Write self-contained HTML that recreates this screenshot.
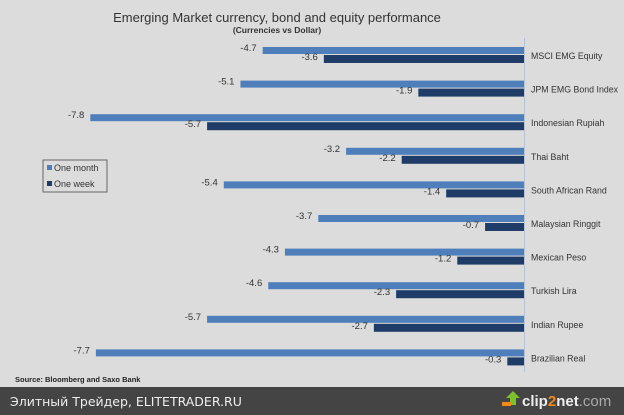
<!DOCTYPE html><html><head><meta charset="utf-8"><style>body{margin:0;width:624px;height:415px;overflow:hidden;background:#dcdcdc}svg{display:block}text{font-family:"Liberation Sans","DejaVu Sans",sans-serif}</style></head><body>
<svg width="624" height="415" xmlns="http://www.w3.org/2000/svg">
<rect width="624" height="415" fill="#dcdcdc"/>
<text x="277" y="22" font-size="13" fill="#333" text-anchor="middle">Emerging Market currency, bond and equity performance</text>
<text x="277" y="33" font-size="8.5" font-weight="bold" fill="#333" text-anchor="middle">(Currencies vs Dollar)</text>
<line x1="524.5" y1="38" x2="524.5" y2="372" stroke="#b8c4d4" stroke-width="1"/>
<g font-size="10" fill="#333" id="g"></g>
<text x="15" y="382" font-size="7.5" font-weight="bold" fill="#222">Source: Bloomberg and Saxo Bank</text>
<rect x="43" y="160" width="64" height="32" fill="#dcdcdc" stroke="#666" stroke-width="1"/>
<rect x="47" y="165" width="5" height="5" fill="#4f7fba"/><text x="54" y="171" font-size="9" fill="#333">One month</text>
<rect x="47" y="181" width="5" height="5" fill="#1f3c68"/><text x="54" y="187" font-size="9" fill="#333">One week</text>
<rect x="0" y="387" width="624" height="28" fill="#444"/>
<text x="10" y="406" font-size="12.5" fill="#eee" style="font-family:'DejaVu Sans',sans-serif">Элитный Трейдер, ELITETRADER.RU</text>
<polygon points="506,398 513,391 520,398 516,398 516,405 510,405 510,398" fill="#7cc12d"/><rect x="502" y="402" width="9" height="4" fill="#f08a1a"/>
<text x="522" y="406" font-size="15" font-weight="bold" fill="#eee">clip<tspan fill="#f08a1a">2</tspan>net<tspan fill="#aaa" font-weight="normal">.com</tspan></text>
</svg>
<script>
var d=[["MSCI EMG Equity",4.7,3.6],["JPM EMG Bond Index",5.1,1.9],["Indonesian Rupiah",7.8,5.7],["Thai Baht",3.2,2.2],["South African Rand",5.4,1.4],["Malaysian Ringgit",3.7,0.7],["Mexican Peso",4.3,1.2],["Turkish Lira",4.6,2.3],["Indian Rupee",5.7,2.7],["Brazilian Real",7.7,0.3]];
var s="";d.forEach(function(r,i){var y=47+33.6*i,m=524-55.6*r[1],w=524-55.6*r[2];
s+='<rect x="'+m+'" y="'+y+'" width="'+(524-m)+'" height="7" fill="#4f7fba"/>';
s+='<rect x="'+w+'" y="'+(y+8)+'" width="'+(524-w)+'" height="8" fill="#1f3c68"/>';
s+='<text x="'+(m-6)+'" y="'+(y+4)+'" text-anchor="end" font-size="9.5" fill="#333">-'+r[1].toFixed(1)+'</text>';
s+='<text x="'+(w-6)+'" y="'+(y+13)+'" text-anchor="end" font-size="9.5" fill="#333">-'+r[2].toFixed(1)+'</text>';
s+='<text x="531" y="'+(y+12)+'" font-size="8.8" fill="#333">'+r[0]+'</text>';});
document.getElementById("g").innerHTML=s;
</script>
</body></html>
